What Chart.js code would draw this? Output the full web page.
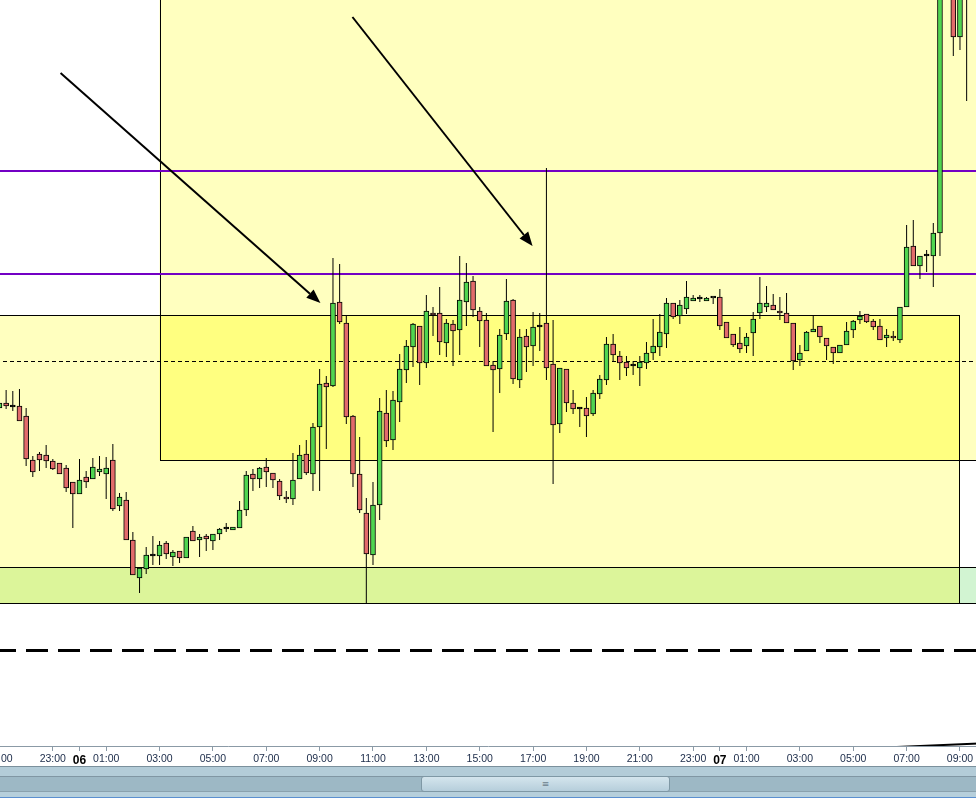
<!DOCTYPE html>
<html>
<head>
<meta charset="utf-8">
<script src="https://cdn.jsdelivr.net/npm/chart.js@4/dist/chart.umd.min.js"></script>
<style>
html, body { margin: 0; padding: 0; background: #fff; }
#wrap { position: relative; width: 976px; height: 766px; overflow: hidden; }
#wrap canvas { position: absolute; left: -32px; top: 0; }
#sb { position: relative; width: 976px; height: 32px; background: #9db8c5; overflow: hidden; }
#sb div { position: absolute; left: 0; width: 976px; }
#sb .thumb { left: 421px; width: 247px; top: 10px; height: 14px; border: 1px solid #7f98a5; border-radius: 3px;
  background: linear-gradient(#d4e5ed, #b6cedb); font: 9px "DejaVu Sans", sans-serif; color: #6b808c; text-align: center; line-height: 14px; }
</style>
</head>
<body>
<div id="wrap"><canvas id="chart" width="1040" height="766"></canvas></div>
<div id="sb">
  <div style="top:0;height:1px;background:#7b909c"></div>
  <div style="top:1px;height:9px;background:#b3ccd8"></div>
  <div style="top:10px;height:1px;background:#8096a3"></div>
  <div style="top:25px;height:1px;background:#8aa1ad"></div>
  <div style="top:26px;height:5px;background:#b6cfdb"></div>
  <div style="top:31px;height:1px;background:#5b8fcf"></div>
  <div class="thumb">&#8801;</div>
</div>
<script>
// 15 minute candles, first one at day 05 21:00, hours counted from 06 00:00
const firstHour = -3;
const step = 0.25;

const open = [
  392, 397, 393, 394, 384, 340, 346, 345, 339, 337,
  332, 318, 306, 323, 321, 328, 326, 340, 294, 300,
  260, 222, 231, 244, 244, 257, 243, 249, 242, 269,
  260, 264, 259, 266, 271, 270, 272, 290, 326, 321,
  333, 327, 319, 303, 301, 321, 346, 326, 373, 417,
  414, 498, 477, 384, 326, 287, 245, 295, 387, 360,
  398, 430, 453, 474, 437, 487, 487, 457, 476, 470,
  498, 519, 489, 480, 435, 431, 466, 500, 420, 464,
  454, 473, 477, 436, 376, 431, 397, 391, 392, 386,
  406, 420, 456, 444, 438, 434, 432, 437, 447, 453,
  466, 497, 484, 491, 499, 501, 499, 502, 503, 478,
  466, 457, 454, 467, 487, 493, 495, 489, 487, 477,
  440, 449, 468, 474, 462, 453, 447, 455, 470, 480,
  486, 479, 474, 462, 464, 460, 493, 554, 534, 544,
  544, 567, 830, 850, 763, 830
];
const high = [
  399, 410, 409, 411, 392, 344, 348, 355, 341, 337,
  335, 318, 341, 329, 342, 344, 343, 356, 307, 308,
  268, 232, 253, 264, 259, 259, 250, 249, 263, 274,
  266, 266, 266, 272, 277, 273, 299, 329, 331, 333,
  342, 327, 321, 309, 347, 355, 360, 377, 431, 424,
  542, 536, 484, 385, 363, 302, 318, 402, 410, 409,
  446, 460, 477, 474, 505, 493, 513, 481, 480, 544,
  537, 524, 493, 487, 439, 471, 521, 501, 471, 471,
  488, 487, 632, 480, 432, 431, 410, 393, 403, 410,
  425, 463, 466, 449, 444, 439, 444, 458, 481, 486,
  502, 497, 500, 519, 505, 505, 503, 502, 511, 478,
  466, 473, 467, 488, 523, 514, 506, 503, 507, 477,
  455, 469, 485, 474, 462, 453, 455, 478, 480, 489,
  486, 481, 481, 471, 469, 493, 575, 580, 544, 550,
  577, 840, 870, 870, 845, 850
];
const low = [
  390, 391, 389, 379, 334, 323, 329, 332, 330, 326,
  308, 272, 306, 312, 321, 324, 301, 289, 289, 260,
  225, 207, 226, 235, 235, 241, 234, 237, 242, 259,
  243, 249, 250, 260, 268, 270, 272, 284, 309, 312,
  313, 312, 300, 297, 295, 321, 325, 309, 309, 351,
  413, 476, 376, 313, 287, 197, 235, 280, 353, 350,
  378, 417, 433, 415, 432, 464, 445, 443, 434, 445,
  474, 483, 453, 434, 368, 407, 460, 416, 412, 428,
  434, 449, 420, 316, 367, 388, 386, 373, 363, 384,
  401, 415, 438, 420, 424, 425, 414, 431, 440, 444,
  452, 481, 476, 486, 499, 498, 499, 496, 470, 462,
  453, 447, 447, 444, 481, 488, 490, 480, 477, 430,
  434, 449, 468, 457, 440, 436, 447, 455, 462, 476,
  477, 470, 460, 453, 459, 457, 493, 534, 521, 528,
  513, 544, 815, 744, 750, 699
];
const close = [
  397, 394, 393, 379, 341, 328, 340, 339, 331, 326,
  312, 306, 320, 318, 333, 331, 332, 291, 303, 260,
  225, 232, 245, 244, 255, 246, 248, 242, 263, 259,
  263, 261, 266, 271, 271, 273, 290, 325, 321, 332,
  328, 320, 304, 301, 320, 345, 327, 373, 416, 413,
  497, 478, 383, 326, 290, 246, 295, 389, 359, 400,
  431, 454, 476, 437, 489, 485, 458, 477, 469, 500,
  518, 490, 479, 434, 430, 465, 499, 421, 463, 453,
  473, 473, 432, 375, 432, 397, 391, 391, 384, 407,
  421, 456, 445, 437, 432, 434, 438, 447, 454, 468,
  497, 483, 495, 503, 502, 501, 502, 502, 474, 462,
  455, 451, 463, 481, 497, 497, 490, 487, 477, 439,
  447, 468, 471, 463, 454, 447, 455, 469, 479, 484,
  478, 473, 460, 465, 462, 493, 553, 534, 544, 544,
  567, 830, 860, 763, 830, 810
];

// x axis
const tickHours = [-3, -1, 0, 1, 3, 5, 7, 9, 11, 13, 15, 17, 19, 21, 23, 24, 25, 27, 29, 31, 33, 35];
const dayLabels = { 0: '06', 24: '07' };
const xMin = -4.179;
const xMax = 34.8;
const yMin = 54;
const yMax = 800;

// zones: [from hour, to hour, low, high]
const zoneA = [3.0, 40, 340, 900];
const zoneB = [-6, 32.97, 197, 485];
const zoneC = [-6, 40, 197, 233];
const purpleLevels = [629, 526];
const midLevel = 439;
const lowerLevel = 150;
// arrows: [from hour, from value, to hour, to value]
const arrows = [[-0.71, 727, 9.03, 497], [10.23, 783, 16.98, 554]];
const trendLine = [28, 50, 35, 58];

const bodies = open.map((o, i) => ({ x: firstHour + i * step, y: [o, close[i]] }));
const wicks = high.map((h, i) => ({ x: firstHour + i * step, y: [low[i], h] }));

function bodyColor(ctx) {
    const i = ctx.dataIndex;
    if (close[i] > open[i]) return '#50d550';
    if (close[i] < open[i]) return '#e26b6b';
    return '#000';
}

const isDay = c => !!(c && c.tick && dayLabels[c.tick.value]);
const labelFont = '"Liberation Sans", Arial, sans-serif';

const overlay = {
    id: 'overlay',
    beforeDatasetsDraw(chart) {
        const { ctx, chartArea: a, scales: { x, y } } = chart;
        const px = h => x.getPixelForValue(h);
        const py = v => y.getPixelForValue(v);
        const rect = (z, color) => {
            ctx.fillStyle = color;
            ctx.fillRect(px(z[0]), py(z[3]), px(z[1]) - px(z[0]), py(z[2]) - py(z[3]));
        };
        ctx.save();
        ctx.beginPath();
        ctx.rect(a.left, a.top, a.width, a.height);
        ctx.clip();

        rect(zoneA, '#ffffbf');
        rect(zoneB, '#ffffbf');
        const both = [Math.max(zoneA[0], zoneB[0]), Math.min(zoneA[1], zoneB[1]),
            Math.max(zoneA[2], zoneB[2]), Math.min(zoneA[3], zoneB[3])];
        rect(both, '#ffff80');
        rect([zoneC[0], zoneB[1], zoneC[2], zoneC[3]], '#dcf59a');
        rect([zoneB[1], zoneC[1], zoneC[2], zoneC[3]], '#d2f4d2');

        ctx.strokeStyle = '#000';
        ctx.lineWidth = 1;
        [zoneA, zoneB, zoneC].forEach(z => {
            const x0 = Math.round(px(z[0])) + 0.5, x1 = Math.round(px(z[1])) + 0.5;
            const y0 = Math.round(py(z[3])) + 0.5, y1 = Math.round(py(z[2])) + 0.5;
            ctx.strokeRect(x0, y0, x1 - x0, y1 - y0);
        });

        // thin dashed mid line
        ctx.setLineDash([4, 3]);
        ctx.beginPath();
        ctx.moveTo(a.left, Math.round(py(midLevel)) + 0.5);
        ctx.lineTo(a.right, Math.round(py(midLevel)) + 0.5);
        ctx.stroke();

        // thick dashed line
        ctx.setLineDash([22, 10]);
        ctx.lineDashOffset = 6;
        ctx.lineWidth = 3;
        ctx.beginPath();
        ctx.moveTo(a.left, Math.round(py(lowerLevel)) + 0.5);
        ctx.lineTo(a.right, Math.round(py(lowerLevel)) + 0.5);
        ctx.stroke();
        ctx.setLineDash([]);

        ctx.strokeStyle = '#7300c4';
        ctx.lineWidth = 2;
        purpleLevels.forEach(v => {
            ctx.beginPath();
            ctx.moveTo(a.left, py(v));
            ctx.lineTo(a.right, py(v));
            ctx.stroke();
        });
        ctx.restore();
    },
    afterDatasetsDraw(chart) {
        const { ctx, chartArea: a, scales: { x, y } } = chart;
        ctx.save();
        ctx.beginPath();
        ctx.rect(a.left, a.top, a.width, a.height);
        ctx.clip();
        ctx.strokeStyle = '#000';
        ctx.fillStyle = '#000';
        ctx.lineWidth = 2;
        arrows.forEach(ar => {
            const x0 = x.getPixelForValue(ar[0]), y0 = y.getPixelForValue(ar[1]);
            const x1 = x.getPixelForValue(ar[2]), y1 = y.getPixelForValue(ar[3]);
            const ang = Math.atan2(y1 - y0, x1 - x0);
            const len = 14, half = 5.5;
            const bx = x1 - len * Math.cos(ang), by = y1 - len * Math.sin(ang);
            ctx.beginPath();
            ctx.moveTo(x0, y0);
            ctx.lineTo(bx, by);
            ctx.stroke();
            ctx.beginPath();
            ctx.moveTo(x1, y1);
            ctx.lineTo(bx - half * Math.sin(ang), by + half * Math.cos(ang));
            ctx.lineTo(bx + half * Math.sin(ang), by - half * Math.cos(ang));
            ctx.closePath();
            ctx.fill();
        });
        ctx.beginPath();
        ctx.moveTo(x.getPixelForValue(trendLine[0]), y.getPixelForValue(trendLine[1]));
        ctx.lineTo(x.getPixelForValue(trendLine[2]), y.getPixelForValue(trendLine[3]));
        ctx.stroke();
        ctx.restore();
    }
};

new Chart(document.getElementById('chart'), {
    type: 'bar',
    data: {
        datasets: [
            {
                label: 'wick',
                data: wicks,
                backgroundColor: '#000',
                borderWidth: 0,
                barThickness: 1,
                inflateAmount: 0,
                grouped: false,
                order: 2,
            },
            {
                label: 'body',
                data: bodies,
                backgroundColor: bodyColor,
                borderColor: '#000',
                borderWidth: 1,
                borderSkipped: false,
                barThickness: 5,
                minBarLength: 2,
                grouped: false,
                order: 1,
            }
        ]
    },
    options: {
        responsive: false,
        animation: false,
        events: [],
        devicePixelRatio: 1,
        layout: { padding: 0 },
        plugins: {
            legend: { display: false },
            tooltip: { enabled: false }
        },
        scales: {
            x: {
                type: 'linear',
                min: xMin,
                max: xMax,
                offset: false,
                afterBuildTicks: s => { s.ticks = tickHours.map(v => ({ value: v })); },
                afterFit: s => { s.height = 20; s.paddingLeft = 0; s.paddingRight = 0; },
                grid: { drawOnChartArea: false, tickLength: 5, color: '#8b9aa6', offset: false },
                border: { color: '#8b9aa6' },
                ticks: {
                    autoSkip: false,
                    maxRotation: 0,
                    minRotation: 0,
                    padding: 2,
                    color: c => isDay(c) ? '#000' : '#1a2a48',
                    font: c => isDay(c)
                        ? { family: labelFont, size: 12, weight: 'bold' }
                        : { family: labelFont, size: 10.5 },
                    callback: v => {
                        if (dayLabels[v]) return dayLabels[v];
                        const hh = ((v % 24) + 24) % 24;
                        return String(hh).padStart(2, '0') + ':00';
                    }
                }
            },
            y: {
                display: false,
                min: yMin,
                max: yMax
            }
        }
    },
    plugins: [overlay]
});
</script>
</body>
</html>
